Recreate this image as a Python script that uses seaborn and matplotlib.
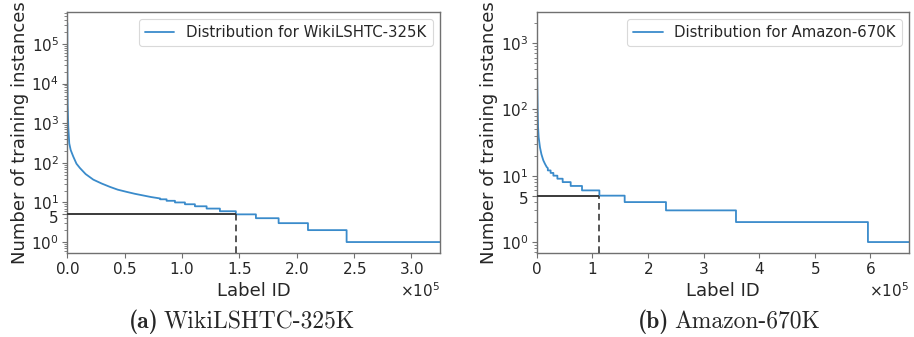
import numpy as np
import pandas as pd
import matplotlib
matplotlib.use("Agg")
import matplotlib.pyplot as plt
import matplotlib.transforms as mtransforms
import seaborn as sns

# ---------------- data ----------------
# WikiLSHTC-325K : smooth head (label id, count) and integer step tail
wiki_head_id = [0, 100, 300, 870, 1700, 2960, 5200, 8000, 11000, 16000, 22700,
                30000, 37200, 44000, 51700, 59000, 66200, 73000, 81000]
wiki_head_count = [340000, 20000, 3000, 800, 310, 210, 144, 95, 74, 52, 37.6,
                   30, 24.7, 21, 18.5, 16.5, 15, 13.7, 12.6]
wiki_step_start = [81000, 86600, 93900, 102600, 111300, 121500, 133100,
                   147000, 164500, 184300, 209900, 243600]
wiki_step_count = [12, 11, 10, 9, 8, 7, 6, 5, 4, 3, 2, 1]
wiki_n_labels = 325056

# Amazon-670K
amazon_head_id = [0, 400, 1000, 1700, 2400, 3500, 5900, 8500, 11900, 15000,
                  18000, 20000]
amazon_head_count = [2000, 600, 250, 100, 55, 38, 26.7, 21, 17, 15, 13.5, 13]
amazon_step_start = [20000, 25000, 30000, 37200, 46700, 61100, 81500, 112700,
                     158200, 232500, 358400, 595700]
amazon_step_count = [12, 11, 10, 9, 8, 7, 6, 5, 4, 3, 2, 1]
amazon_n_labels = 670091

threshold = 5
legend_labels = ["Distribution for WikiLSHTC-325K", "Distribution for Amazon-670K"]
captions = [("(a)", "WikiLSHTC-325K"), ("(b)", "Amazon-670K")]
wiki_yticks = [1, 5, 10, 100, 1000, 10000, 100000]
wiki_yticklabels = [r"$10^{0}$", "5", r"$10^{1}$", r"$10^{2}$", r"$10^{3}$",
                    r"$10^{4}$", r"$10^{5}$"]
amazon_yticks = [1, 5, 10, 100, 1000]
amazon_yticklabels = [r"$10^{0}$", "5", r"$10^{1}$", r"$10^{2}$", r"$10^{3}$"]
xlabel = "Label ID"
ylabel = "Number of training instances"

# ---------------- styling ----------------
sns.set_theme(style="white")
plt.rcParams["font.family"] = ["DejaVu Sans"]
plt.rcParams["mathtext.fontset"] = "dejavusans"

LINE_C = "#3a8bcb"
SPINE_C = "#707070"


def build_curve(head_x, head_y, step_x, step_y, n):
    xs = list(head_x)
    ys = list(head_y)
    ends = list(step_x[1:]) + [n]
    for s, e, c in zip(step_x, ends, step_y):
        xs += [s, e]
        ys += [c, c]
    return pd.DataFrame({"label_id": xs, "count": ys})


fig = plt.figure(figsize=(9.14, 3.37), dpi=100)
W, H = 914.0, 337.0
panels = [
    dict(box=(67.3, 12, 440, 253), df=build_curve(wiki_head_id, wiki_head_count,
                                                    wiki_step_start, wiki_step_count, wiki_n_labels),
         n=wiki_n_labels, step_x=wiki_step_start, step_y=wiki_step_count,
         yt=wiki_yticks, ytl=wiki_yticklabels, leg=legend_labels[0], cap=captions[0], capx=242),
    dict(box=(536.7, 12, 909.3, 253), df=build_curve(amazon_head_id, amazon_head_count,
                                                       amazon_step_start, amazon_step_count, amazon_n_labels),
         n=amazon_n_labels, step_x=amazon_step_start, step_y=amazon_step_count,
         yt=amazon_yticks, ytl=amazon_yticklabels, leg=legend_labels[1], cap=captions[1], capx=729),
]

renderer = fig.canvas.get_renderer()
CAP_SIZE = 17
CAP_GAP = 5  # px between bold tag and name

for p in panels:
    l, t, r, b = p["box"]
    ax = fig.add_axes([l / W, 1 - b / H, (r - l) / W, (b - t) / H])
    sns.lineplot(data=p["df"], x="label_id", y="count", ax=ax, sort=False,
                 estimator=None, color=LINE_C, linewidth=1.3, label=p["leg"])
    ax.set_yscale("log")
    ax.set_xlim(0, p["n"])
    ylo, yhi = ax.get_ylim()
    x5 = p["step_x"][p["step_y"].index(threshold)]
    ax.hlines(threshold, 0, x5, colors="#3a3a3a", linewidth=1.4, zorder=3)
    ax.vlines(x5, ylo, threshold, colors="#3a3a3a", linewidth=1.2,
              linestyles=(0, (4, 2.5)), zorder=3)
    ax.set_ylim(ylo, yhi)
    ax.set_yticks(p["yt"])
    ax.set_yticklabels(p["ytl"])
    ax.ticklabel_format(style="sci", axis="x", scilimits=(0, 0), useMathText=True)
    ax.tick_params(axis="both", which="major", labelsize=11, length=3.5,
                   width=0.8, color=SPINE_C, left=True, bottom=True, pad=2.5)
    ax.tick_params(axis="y", which="minor", length=2, width=0.6, color=SPINE_C, left=True)
    ax.xaxis.get_offset_text().set_fontsize(11)
    # nudge the "5" label slightly down so it does not collide with 10^1
    for lab in ax.get_yticklabels():
        if lab.get_text() == "5":
            lab.set_transform(lab.get_transform() +
                              mtransforms.ScaledTranslation(0, -2 / 72, fig.dpi_scale_trans))
    for s in ax.spines.values():
        s.set_color(SPINE_C)
        s.set_linewidth(1.0)
    ax.set_xlabel(xlabel, fontsize=13, labelpad=3)
    ax.set_ylabel(ylabel, fontsize=13, labelpad=2)
    leg = ax.legend(loc="upper right", fontsize=10.7, frameon=True, fancybox=True)
    leg.get_frame().set_edgecolor("#d0d0d0")
    leg.get_frame().set_linewidth(0.8)

    # caption: bold tag + roman name, centred as a whole
    bold, name = p["cap"]
    yc = 1 - 322 / H
    t1 = fig.text(0, yc, bold, ha="left", va="center", fontsize=CAP_SIZE,
                  family="cmb10")
    t2 = fig.text(0, yc, name, ha="left", va="center", fontsize=CAP_SIZE,
                  family="cmr10")
    w1 = t1.get_window_extent(renderer).width
    w2 = t2.get_window_extent(renderer).width
    x0 = p["capx"] - (w1 + CAP_GAP + w2) / 2
    t1.set_x(x0 / W)
    t2.set_x((x0 + w1 + CAP_GAP) / W)

fig.savefig("out.png", dpi=100)
